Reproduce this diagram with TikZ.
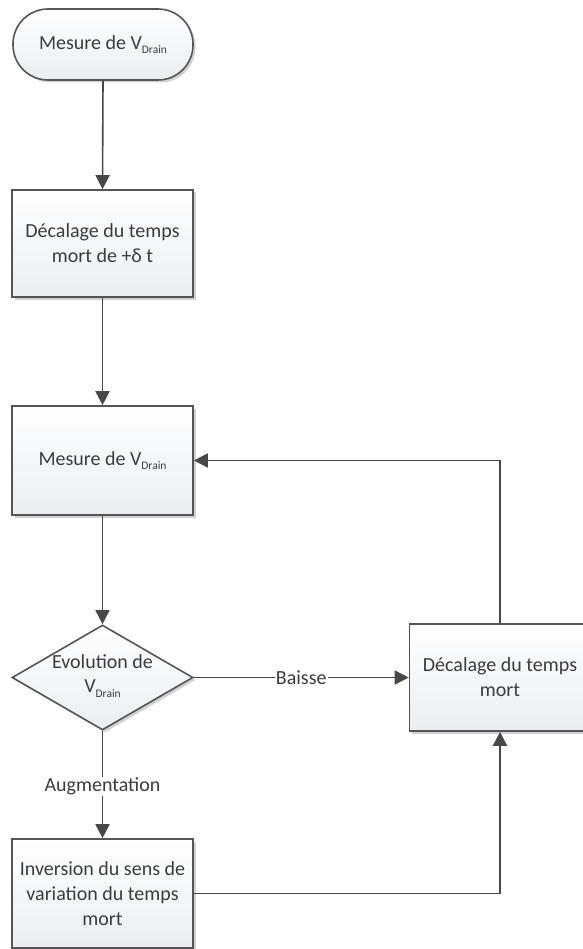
\documentclass[tikz,border=0pt]{standalone}
\usepackage{fontspec}
\setmainfont{Carlito}
\usetikzlibrary{arrows.meta,shapes.geometric,shadows,positioning}
\definecolor{linec}{RGB}{72,72,72}
\definecolor{borderc}{RGB}{85,85,85}
\definecolor{textc}{RGB}{60,60,60}
\definecolor{botc}{RGB}{235,237,241}
\newcommand{\Vdrain}{V\raisebox{-0.22em}{\fontsize{11.5}{12}\selectfont Drain}}
\tikzset{
  base/.style={draw=borderc, line width=1.6pt, text=textc, align=center,
    top color=white, bottom color=botc, inner sep=2pt,
    drop shadow={shadow xshift=2.5pt, shadow yshift=-2.5pt, fill=black!18, opacity=1}},
  procbox/.style={base, rectangle, minimum width=181pt},
  term/.style={base, rectangle, rounded corners=35pt, minimum width=180pt, minimum height=71pt},
  decis/.style={draw=borderc, line width=1.6pt, diamond, top color=white, bottom color=botc,
    minimum width=181pt, minimum height=105pt, inner sep=0pt,
    drop shadow={shadow xshift=2.5pt, shadow yshift=-2.5pt, fill=black!18, opacity=1}},
  conn/.style={draw=linec, line width=1.6pt, -{Triangle[length=14pt,width=14pt]}},
  lbl/.style={fill=white, text=textc, inner sep=1pt}
}
\begin{document}
\begin{tikzpicture}[x=1pt,y=-1pt, font=\fontsize{20}{25}\selectfont]
\useasboundingbox (0,0) rectangle (582,949);
\node[term] (t1) at (103,44.5) {Mesure de \Vdrain};
\node[procbox, minimum height=107pt] (b2) at (102.5,243.5) {Décalage du temps\\mort de +δ t};
\node[procbox, minimum height=109pt] (b3) at (102.5,460.5) {Mesure de \Vdrain};
\node[decis] (dec) at (102.5,677.5) {};
\node[text=textc, align=center] (dectxt) at (102.5,676) {Evolution de\\[-1pt]\Vdrain};
\node[procbox, minimum height=107pt] (b4) at (500,677.5) {Décalage du temps\\mort};
\node[procbox, minimum height=109pt] (b5) at (102.5,893.5) {Inversion du sens de\\variation du temps\\mort};

\draw[conn] (t1.south) -- (b2.north);
\draw[conn] (b2.south) -- (b3.north);
\draw[conn] (b3.south) -- (dec.north);
\draw[conn] (dec.east) -- node[lbl] (lb) {Baisse} (b4.west);
\draw[conn] (dec.south) -- node[lbl, pos=0.52] (la) {Augmentation} (b5.north);
\draw[conn] (b5.east) -| (b4.south);
\draw[conn] (b4.north) |- (b3.east);
\end{tikzpicture}
\end{document}
